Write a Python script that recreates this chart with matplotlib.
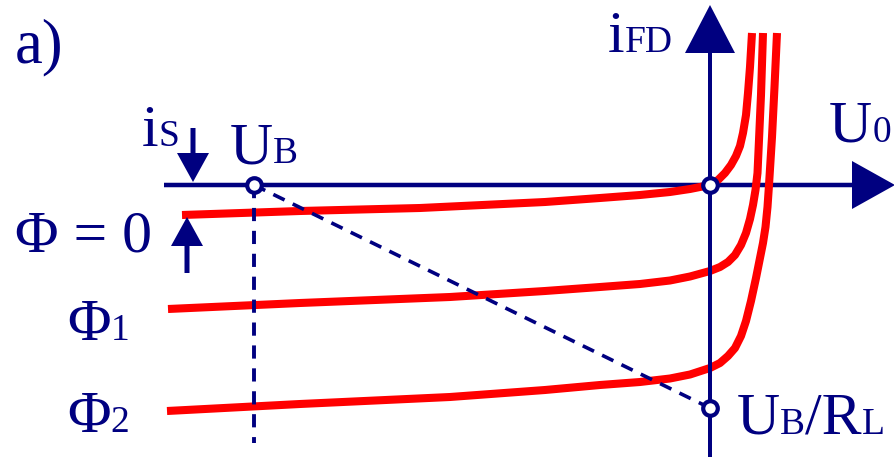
import matplotlib.pyplot as plt

NAVY = '#000080'
RED = '#ff0000'
FONT = 'Liberation Serif'
MAIN = 43
SUB = 27

# photodiode characteristics, U and i in diagram units (origin at the axes crossing)
u_phi0 = [-5.28, -4.10, -2.90, -1.65, -1.10, -0.70, -0.40, -0.20, 0.00, 0.08, 0.15, 0.21, 0.26,
          0.30, 0.33, 0.36, 0.38, 0.40, 0.42]
i_phi0 = [-0.30, -0.26, -0.23, -0.17, -0.13, -0.10, -0.07, -0.04, 0.00, 0.05, 0.12, 0.20, 0.29,
          0.39, 0.52, 0.70, 0.92, 1.18, 1.52]

u_phi1 = [-5.42, -4.10, -2.60, -1.65, -1.10, -0.70, -0.40, -0.20, 0.00, 0.10, 0.18, 0.25, 0.31,
          0.36, 0.40, 0.43, 0.455, 0.475, 0.49, 0.51, 0.53]
i_phi1 = [-1.24, -1.18, -1.12, -1.06, -1.02, -0.99, -0.955, -0.915, -0.86, -0.82, -0.77, -0.70, -0.60,
          -0.48, -0.34, -0.20, -0.05, 0.12, 0.45, 0.90, 1.52]

u_phi2 = [-5.43, -4.10, -2.60, -1.65, -1.10, -0.70, -0.40, -0.20, 0.00, 0.10, 0.18, 0.25, 0.31,
          0.36, 0.41, 0.46, 0.50, 0.53, 0.555, 0.575, 0.59, 0.62, 0.645, 0.67]
i_phi2 = [-2.26, -2.19, -2.12, -2.05, -2.00, -1.97, -1.935, -1.895, -1.83, -1.78, -1.71, -1.63, -1.51,
          -1.36, -1.16, -0.93, -0.73, -0.58, -0.42, -0.22, 0.00, 0.48, 0.98, 1.52]

u_b = -4.56      # supply voltage U_B
i_load = -2.23   # short circuit point U_B/R_L
u_left, u_right = -5.46, 1.85
i_bottom, i_top = -2.72, 1.80


def label(ax, x, y, parts):
    # write text pieces one after another on the same baseline
    renderer = ax.figure.canvas.get_renderer()
    for txt, size in parts:
        t = ax.text(x, y, txt, fontsize=size, family=FONT, color=NAVY,
                    ha='left', va='baseline', zorder=6)
        bb = t.get_window_extent(renderer)
        x = ax.transData.inverted().transform((bb.x1, bb.y0))[0]


fig = plt.figure(figsize=(8.95, 4.57), dpi=100)
ax = fig.add_axes([0, 0, 1, 1])
ax.set_xlim(-7.10, 1.85)
ax.set_ylim(-2.72, 1.85)
ax.axis('off')
plt.rcParams['lines.scale_dashes'] = False

# axes with arrow heads
ax.arrow(u_left, 0, u_right - u_left, 0, width=0.045, head_width=0.48,
         head_length=0.43, length_includes_head=True, fc=NAVY, ec='none', zorder=1)
ax.arrow(0, i_bottom, 0, i_top - i_bottom, width=0.04, head_width=0.50,
         head_length=0.48, length_includes_head=True, fc=NAVY, ec='none', zorder=3)

# curves
for u, i in [(u_phi0, i_phi0), (u_phi1, i_phi1), (u_phi2, i_phi2)]:
    ax.plot(u, i, color=RED, lw=5.8, solid_capstyle='butt', solid_joinstyle='round', zorder=2)

# load line and U_B marker
ax.plot([u_b, u_b], [0, -2.58], color=NAVY, lw=2.8, dashes=(9.5, 7), zorder=4)
ax.plot([u_b, 0], [0, i_load], color=NAVY, lw=2.6, dashes=(9, 6.5), zorder=4)
ax.plot([u_b, 0, 0], [0, 0, i_load], ls='none', marker='o', ms=10.5, mew=3,
        mfc='white', mec=NAVY, zorder=5)

# saturation current arrows
ax.arrow(-5.17, 0.57, 0, -0.54, width=0.05, head_width=0.32, head_length=0.29,
         length_includes_head=True, fc=NAVY, ec='none', zorder=3)
ax.arrow(-5.23, -0.88, 0, i_phi0[0] - 0.02 + 0.88, width=0.05, head_width=0.32,
         head_length=0.29, length_includes_head=True, fc=NAVY, ec='none', zorder=3)

label(ax, -6.95, 1.23, [('a)', 45)])
label(ax, -6.95, -0.66, [('\u03a6 = 0', MAIN)])
label(ax, -6.43, -1.55, [('\u03a6', MAIN), ('1', SUB)])
label(ax, -6.43, -2.47, [('\u03a6', MAIN), ('2', SUB)])
label(ax, -5.68, 0.39, [('i', MAIN), ('S', SUB)])
label(ax, -4.80, 0.22, [('U', MAIN), ('B', SUB)])
label(ax, -1.02, 1.33, [('i', MAIN), ('FD', SUB)])
label(ax, 1.19, 0.43, [('U', MAIN), ('0', SUB)])
label(ax, 0.27, -2.49, [('U', MAIN), ('B', SUB), ('/R', MAIN), ('L', SUB)])

fig.savefig('out.png', dpi=100)
